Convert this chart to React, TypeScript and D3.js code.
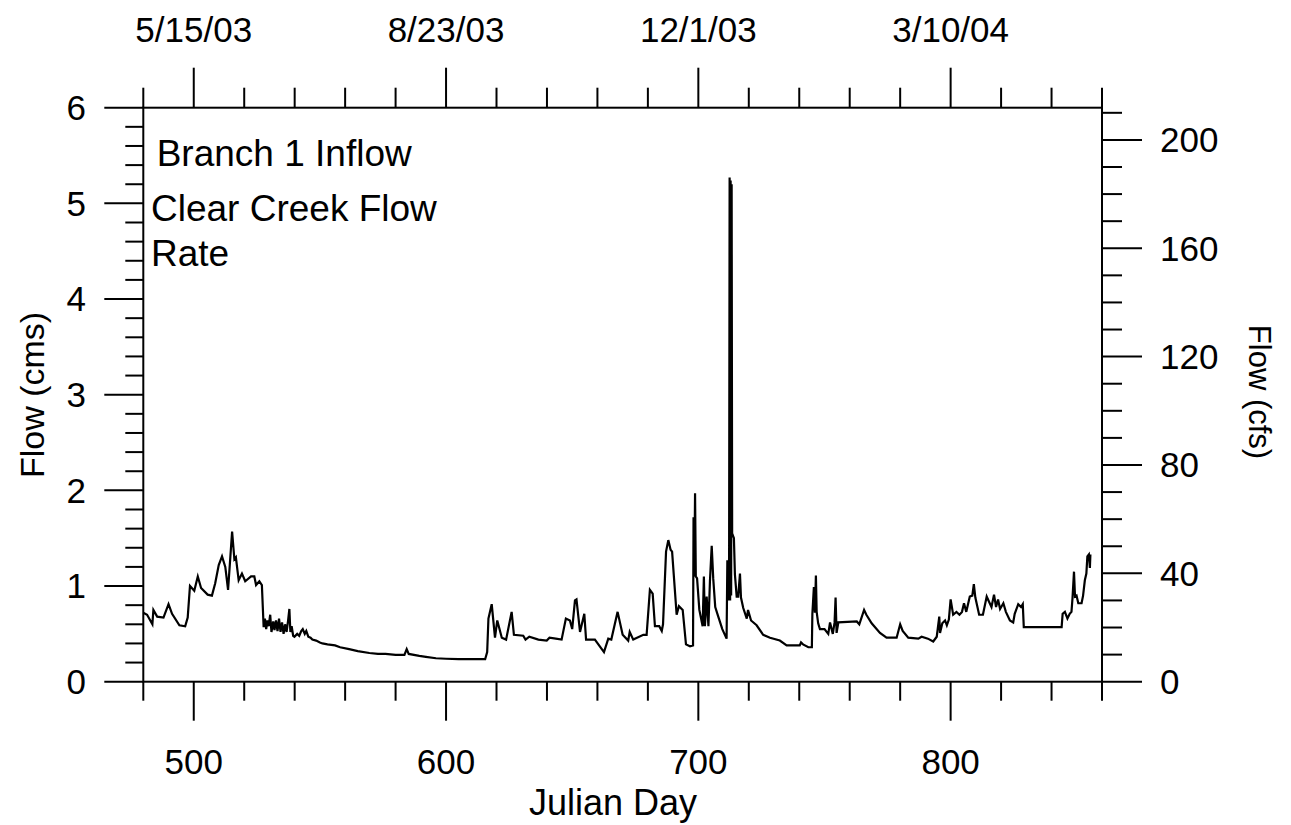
import React from "react";
import * as d3 from "d3";

// Julian day (x) and flow in cms (y)
const days: number[] = [
  480.0, 481.5, 483.6, 484.0, 485.5, 488.0, 490.0, 491.4, 494.3, 496.6, 497.6, 498.5, 500.2, 501.6, 502.9,
  505.5, 507.2, 508.5, 509.9, 511.2, 512.5, 513.6, 515.2, 516.1, 516.7, 517.8, 519.1, 520.4, 522.7, 524.0,
  524.7, 526.0, 527.0, 527.7, 528.2, 528.7, 529.2, 529.7, 530.3, 530.8, 531.5, 532.0, 532.6, 533.2, 533.8,
  534.4, 535.0, 535.6, 536.2, 536.8, 537.4, 537.9, 538.3, 538.8, 539.4, 539.9, 541.0, 541.8, 542.6, 543.2,
  544.0, 544.6, 545.4, 546.3, 547.0, 548.5, 550.0, 551.0, 553.0, 556.0, 558.0, 561.6, 565.0, 569.6, 573.0,
  576.0, 580.0, 583.5, 584.4, 585.2, 589.4, 592.0, 596.0, 600.0, 605.0, 609.2, 615.5, 616.3, 616.8, 618.1,
  619.4, 620.3, 622.1, 623.8, 626.0, 626.9, 630.6, 631.5, 633.0, 636.6, 639.9, 641.0, 643.5, 645.8, 647.5,
  649.1, 650.0, 651.1, 651.7, 653.1, 654.8, 655.5, 659.0, 662.6, 664.3, 665.5, 668.0, 670.0, 672.2, 672.8,
  674.2, 678.2, 679.5, 680.8, 681.9, 682.8, 684.5, 685.5, 686.0, 687.2, 688.1, 689.0, 689.6, 691.4, 692.3,
  693.8, 695.1, 696.7, 697.9, 698.1, 698.4, 698.7, 699.0, 699.5, 700.4, 701.7, 702.2, 702.6, 703.3, 704.0,
  704.6, 705.3, 705.9, 706.7, 707.9, 709.5, 711.2, 711.5, 711.8, 712.2, 712.4, 712.6, 712.8, 713.0, 713.2,
  713.4, 714.1, 714.5, 715.2, 715.8, 716.5, 716.9, 717.8, 719.2, 719.7, 720.9, 723.1, 725.7, 728.4, 732.3,
  735.0, 740.2, 740.7, 741.5, 743.6, 745.0, 745.2, 745.8, 746.2, 746.6, 746.9, 747.5, 748.2, 750.0, 751.5,
  752.2, 753.3, 754.0, 754.4, 754.8, 755.5, 762.8, 763.8, 765.7, 766.6, 768.7, 772.0, 774.6, 778.6, 780.0,
  781.0, 783.2, 787.2, 788.5, 791.0, 793.1, 794.5, 795.5, 795.8, 796.7, 797.8, 798.5, 799.3, 800.0, 801.0,
  802.3, 803.5, 804.5, 805.3, 806.2, 807.6, 808.6, 809.2, 809.8, 811.3, 812.8, 814.3, 815.5, 816.2, 817.2,
  818.0, 818.8, 819.6, 820.9, 821.9, 823.5, 824.8, 825.4, 826.8, 827.9, 828.6, 829.0, 844.0, 844.4, 845.3,
  846.3, 847.2, 847.9, 848.3, 848.9, 849.3, 849.9, 850.6, 851.9, 852.5, 853.2, 853.8, 854.2, 854.8, 855.2,
  855.4,
];

const flowCms: number[] = [
  0.72, 0.70, 0.60, 0.75, 0.68, 0.67, 0.81, 0.71, 0.59, 0.58, 0.67, 1.00, 0.95, 1.10, 0.98,
  0.91, 0.90, 1.03, 1.22, 1.31, 1.20, 0.96, 1.57, 1.28, 1.30, 1.06, 1.13, 1.05, 1.10, 1.10,
  1.01, 1.05, 1.01, 0.57, 0.66, 0.55, 0.64, 0.58, 0.70, 0.52, 0.63, 0.54, 0.64, 0.53, 0.66,
  0.52, 0.62, 0.50, 0.60, 0.52, 0.64, 0.76, 0.52, 0.58, 0.48, 0.47, 0.50, 0.48, 0.53, 0.55,
  0.50, 0.53, 0.47, 0.46, 0.44, 0.43, 0.41, 0.40, 0.39, 0.38, 0.36, 0.34, 0.32, 0.30, 0.29,
  0.29, 0.28, 0.28, 0.34, 0.29, 0.27, 0.26, 0.245, 0.24, 0.235, 0.235, 0.235, 0.31, 0.66, 0.81,
  0.46, 0.64, 0.46, 0.44, 0.73, 0.49, 0.48, 0.44, 0.47, 0.44, 0.43, 0.46, 0.45, 0.44, 0.66,
  0.64, 0.55, 0.85, 0.86, 0.52, 0.71, 0.44, 0.44, 0.31, 0.45, 0.44, 0.73, 0.49, 0.43, 0.52,
  0.44, 0.49, 0.49, 0.96, 0.92, 0.58, 0.58, 0.53, 0.60, 1.36, 1.48, 1.38, 1.36, 0.70, 0.79,
  0.75, 0.39, 0.37, 0.38, 1.72, 1.10, 1.97, 1.10, 1.08, 0.75, 0.58, 1.10, 0.58, 0.89, 0.58,
  1.05, 1.42, 1.08, 0.78, 0.68, 0.55, 0.45, 1.27, 0.85, 1.30, 5.27, 0.85, 5.24, 0.90, 5.20,
  1.55, 1.50, 1.12, 0.89, 0.89, 1.13, 0.88, 0.77, 0.66, 0.75, 0.64, 0.59, 0.49, 0.46, 0.43,
  0.38, 0.38, 0.41, 0.39, 0.36, 0.36, 0.71, 0.99, 0.72, 1.11, 0.73, 0.61, 0.55, 0.55, 0.50,
  0.62, 0.50, 0.62, 0.88, 0.51, 0.62, 0.63, 0.60, 0.75, 0.70, 0.61, 0.51, 0.46, 0.46, 0.60,
  0.53, 0.46, 0.45, 0.47, 0.45, 0.42, 0.47, 0.68, 0.51, 0.61, 0.64, 0.59, 0.65, 0.86, 0.70,
  0.73, 0.70, 0.73, 0.82, 0.73, 0.89, 0.90, 1.02, 0.88, 0.70, 0.70, 0.89, 0.82, 0.78, 0.91,
  0.78, 0.86, 0.76, 0.82, 0.73, 0.64, 0.62, 0.71, 0.81, 0.78, 0.81, 0.57, 0.57, 0.71, 0.73,
  0.66, 0.71, 0.73, 0.87, 1.15, 0.89, 0.90, 0.82, 0.82, 0.90, 1.06, 1.13, 1.31, 1.33, 1.19,
  1.33,
];

const xMajorTicks: number[] = [500, 600, 700, 800];
const dateLabels: string[] = ["5/15/03", "8/23/03", "12/1/03", "3/10/04"];
const yLeftLabels: number[] = [0, 1, 2, 3, 4, 5, 6];
const yRightLabels: number[] = [0, 40, 80, 120, 160, 200];
const legendLines: string[] = ["Branch 1 Inflow", "Clear Creek Flow", "Rate"];
const CFS_PER_CMS = 35.3147;

const W = 1291;
const H = 825;
const L = 143.3, R = 1102, T = 107.7, B = 681.7;
const FONT = "'Liberation Sans', Arial, Helvetica, sans-serif";

export default function App() {
  const x = d3.scaleLinear().domain([480, 860]).range([L, R]);
  const y = d3.scaleLinear().domain([0, 6]).range([B, T]);
  const yR = d3.scaleLinear().domain([0, 6 * CFS_PER_CMS]).range([B, T]);

  const data = days.map((d, i) => [d, flowCms[i]] as [number, number]);
  const line = d3
    .line<[number, number]>()
    .x((d) => x(d[0]))
    .y((d) => y(d[1]));

  const xTicks = d3.range(480, 861, 20);
  const yTicks = d3.range(0, 6.0001, 0.2);
  const yRTicks = d3.range(0, 211, 10);
  const isMajorX = (v: number) => xMajorTicks.includes(v);
  const isMajorY = (v: number) => Math.abs(v - Math.round(v)) < 1e-6;

  const stroke = "#000";
  const sw = 2;
  const fs = 35;

  return (
    <svg width={W} height={H} style={{ position: "absolute", left: 0, top: 0, background: "#fff" }} fontFamily={FONT}>
      <rect x={0} y={0} width={W} height={H} fill="#fff" />
      {/* frame */}
      <rect x={L} y={T} width={R - L} height={B - T} fill="none" stroke={stroke} strokeWidth={sw} />

      {/* bottom & top ticks */}
      {xTicks.map((v) => {
        const len = isMajorX(v) ? 39 : 19;
        return (
          <g key={"xt" + v}>
            <line x1={x(v)} x2={x(v)} y1={B} y2={B + len} stroke={stroke} strokeWidth={sw} />
            <line x1={x(v)} x2={x(v)} y1={T} y2={T - len - 1} stroke={stroke} strokeWidth={sw} />
          </g>
        );
      })}
      {xMajorTicks.map((v, i) => (
        <g key={"xl" + v}>
          <text x={x(v)} y={774} textAnchor="middle" fontSize={fs}>{v}</text>
          <text x={x(v)} y={41.7} textAnchor="middle" fontSize={fs}>{dateLabels[i]}</text>
        </g>
      ))}

      {/* left ticks */}
      {yTicks.map((v, i) => {
        const len = isMajorY(v) ? 39 : 18;
        return <line key={"yl" + i} x1={L - len} x2={L} y1={y(v)} y2={y(v)} stroke={stroke} strokeWidth={sw} />;
      })}
      {yLeftLabels.map((v) => (
        <text key={"yll" + v} x={86} y={y(v) + 12.3} textAnchor="end" fontSize={fs}>{v}</text>
      ))}

      {/* right ticks */}
      {yRTicks.map((v) => {
        const len = v % 40 === 0 ? 40 : 20;
        return <line key={"yr" + v} x1={R} x2={R + len} y1={yR(v)} y2={yR(v)} stroke={stroke} strokeWidth={sw} />;
      })}
      {yRightLabels.map((v) => (
        <text key={"yrl" + v} x={1160} y={yR(v) + 12.3} textAnchor="start" fontSize={fs}>{v}</text>
      ))}

      {/* axis titles */}
      <text x={613} y={815} textAnchor="middle" fontSize={36}>Julian Day</text>
      <text transform="translate(44,395) rotate(-90)" textAnchor="middle" fontSize={34}>Flow (cms)</text>
      <text transform="translate(1249,392) rotate(90)" textAnchor="middle" fontSize={31}>Flow (cfs)</text>

      {/* legend text */}
      <text x={156.7} y={165.7} fontSize={37}>{legendLines[0]}</text>
      <text x={151} y={220.7} fontSize={37}>{legendLines[1]}</text>
      <text x={151} y={265.7} fontSize={37}>{legendLines[2]}</text>

      {/* data */}
      <path d={line(data) || ""} fill="none" stroke={stroke} strokeWidth={2.2} strokeLinejoin="miter" strokeMiterlimit={4} />
    </svg>
  );
}
